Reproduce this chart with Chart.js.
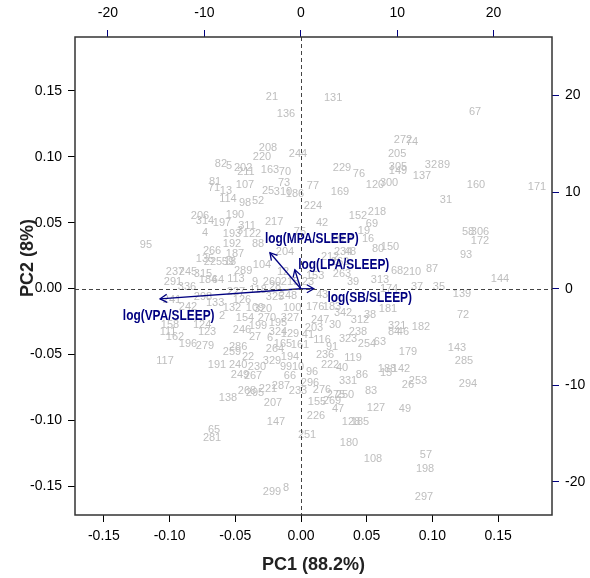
<!DOCTYPE html>
<html lang="en">
<head>
<meta charset="UTF-8">
<title>PCA biplot</title>
<script src="https://cdn.jsdelivr.net/npm/chart.js"></script>
<style>
  body { margin: 0; background: #fff; }
  #wrap { width: 590px; height: 578px; }
</style>
</head>
<body>
<div id="wrap"><canvas id="biplot" width="590" height="578"></canvas></div>
<script>
// observation scores, plotted on the bottom / left axes
const obsIds = [
  21, 131, 136, 67, 272, 74, 208, 220, 244, 205,
  82, 5, 202, 211, 163, 70, 229, 76, 305, 149,
  32, 89, 137, 120, 300, 160, 171, 81, 71, 107,
  73, 77, 169, 25, 31, 114, 13, 310, 186, 224,
  52, 98, 218, 152, 190, 206, 314, 197, 217, 42,
  69, 311, 193, 4, 95, 58, 306, 172, 150, 80,
  266, 204, 234, 48, 93, 135, 225, 187, 87, 68,
  210, 237, 245, 315, 184, 64, 144, 313, 12, 153,
  263, 291, 336, 39, 23, 289, 37, 35, 174, 139,
  241, 298, 133, 242, 126, 325, 248, 181, 72, 109,
  132, 320, 100, 176, 183, 342, 38, 158, 124, 123,
  111, 162, 196, 279, 321, 182, 84, 46, 199, 195,
  203, 27, 324, 41, 116, 323, 238, 254, 179, 143,
  286, 264, 91, 236, 119, 194, 285, 117, 191, 329,
  240, 230, 99, 10, 222, 40, 188, 142, 15, 267,
  66, 86, 331, 26, 253, 294, 296, 268, 295, 221,
  287, 233, 83, 138, 155, 269, 250, 275, 207, 47,
  127, 49, 226, 147, 128, 185, 65, 281, 251, 180,
  108, 57, 198, 297, 299, 8, 59, 113, 3, 122,
  192, 88, 18, 104, 260, 9, 227, 118, 28, 215,
  212, 20, 7, 16, 19, 75, 154, 270, 327, 2,
  246, 6, 129, 161, 259, 22, 165, 247, 30, 312,
  63, 262, 43, 249, 96, 276
];
const pc1 = [
  -0.0221, 0.0244, -0.0114, 0.1324, 0.0776, 0.0845, -0.0251, -0.0297, -0.0023, 0.0731,
  -0.0609, -0.0548, -0.0441, -0.0419, -0.0236, -0.0122, 0.0312, 0.0441, 0.0738, 0.0738,
  0.0989, 0.1088, 0.0921, 0.0563, 0.0670, 0.1332, 0.1796, -0.0654, -0.0662, -0.0426,
  -0.0129, 0.0091, 0.0297, -0.0251, 0.1103, -0.0556, -0.0571, -0.0137, -0.0046, 0.0091,
  -0.0327, -0.0426, 0.0578, 0.0434, -0.0502, -0.0769, -0.0731, -0.0601, -0.0205, 0.0160,
  0.0540, -0.0411, -0.0525, -0.0731, -0.1180, 0.1271, 0.1362, 0.1362, 0.0677, 0.0586,
  -0.0677, -0.0122, 0.0320, 0.0373, 0.1256, -0.0731, -0.0670, -0.0502, 0.0997, 0.0731,
  0.0845, -0.0959, -0.0860, -0.0746, -0.0708, -0.0632, 0.1514, 0.0601, -0.0137, 0.0107,
  0.0312, -0.0974, -0.0868, 0.0396, 0.0053, -0.0441, 0.0883, 0.1050, 0.0670, 0.1225,
  -0.0982, -0.0746, -0.0654, -0.0860, -0.0449, -0.0198, -0.0099, 0.0662, 0.1233, -0.0350,
  -0.0525, -0.0289, -0.0068, 0.0107, 0.0236, 0.0320, 0.0525, -0.0997, -0.0753, -0.0715,
  -0.1012, -0.0959, -0.0860, -0.0731, 0.0731, 0.0913, 0.0708, 0.0776, -0.0327, -0.0175,
  0.0099, -0.0350, -0.0175, 0.0053, 0.0160, 0.0358, 0.0434, 0.0502, 0.0814, 0.1187,
  -0.0479, -0.0198, 0.0236, 0.0183, 0.0396, -0.0084, 0.1240, -0.1035, -0.0639, -0.0221,
  -0.0479, -0.0335, -0.0114, -0.0023, 0.0221, 0.0312, 0.0654, 0.0761, 0.0647, -0.0365,
  -0.0084, 0.0464, 0.0358, 0.0814, 0.0890, 0.1271, 0.0068, -0.0411, -0.0350, -0.0251,
  -0.0152, -0.0023, 0.0533, -0.0556, 0.0122, 0.0236, 0.0335, 0.0266, -0.0213, 0.0282,
  0.0571, 0.0791, 0.0114, -0.0190, 0.0380, 0.0449, -0.0662, -0.0677, 0.0046, 0.0365,
  0.0548, 0.0951, 0.0944, 0.0936, -0.0221, -0.0114, -0.0556, -0.0495, -0.0464, -0.0373,
  -0.0525, -0.0327, -0.0540, -0.0297, -0.0221, -0.0350, -0.0495, -0.0327, -0.0198, -0.0084,
  0.0221, 0.0282, 0.0373, 0.0510, 0.0479, -0.0008, -0.0426, -0.0259, -0.0084, -0.0601,
  -0.0449, -0.0236, -0.0084, -0.0008, -0.0525, -0.0403, -0.0137, 0.0145, 0.0259, 0.0449,
  0.0601, 0.0297, 0.0160, -0.0464, 0.0084, 0.0160
];
const pc2 = [
  0.1454, 0.1446, 0.1324, 0.1339, 0.1126, 0.1111, 0.1065, 0.0997, 0.1020, 0.1020,
  0.0944, 0.0928, 0.0913, 0.0883, 0.0898, 0.0883, 0.0913, 0.0868, 0.0921, 0.0890,
  0.0936, 0.0936, 0.0852, 0.0784, 0.0799, 0.0784, 0.0769, 0.0807, 0.0761, 0.0784,
  0.0799, 0.0776, 0.0731, 0.0738, 0.0670, 0.0677, 0.0738, 0.0731, 0.0715, 0.0624,
  0.0662, 0.0647, 0.0578, 0.0548, 0.0556, 0.0548, 0.0510, 0.0495, 0.0502, 0.0495,
  0.0487, 0.0472, 0.0411, 0.0419, 0.0327, 0.0426, 0.0426, 0.0358, 0.0312, 0.0297,
  0.0282, 0.0274, 0.0274, 0.0274, 0.0251, 0.0221, 0.0205, 0.0259, 0.0145, 0.0137,
  0.0122, 0.0122, 0.0129, 0.0107, 0.0068, 0.0068, 0.0076, 0.0068, 0.0129, 0.0099,
  0.0107, 0.0046, 0.0015, 0.0046, 0.0046, 0.0137, 0.0015, 0.0015, 0.0000, -0.0038,
  -0.0084, -0.0068, -0.0107, -0.0137, -0.0084, -0.0068, -0.0053, -0.0152, -0.0198, -0.0145,
  -0.0145, -0.0152, -0.0145, -0.0137, -0.0137, -0.0183, -0.0198, -0.0274, -0.0274, -0.0327,
  -0.0327, -0.0365, -0.0419, -0.0434, -0.0282, -0.0289, -0.0327, -0.0327, -0.0282, -0.0259,
  -0.0297, -0.0365, -0.0327, -0.0350, -0.0388, -0.0381, -0.0327, -0.0419, -0.0479, -0.0449,
  -0.0441, -0.0457, -0.0441, -0.0502, -0.0525, -0.0517, -0.0548, -0.0548, -0.0578, -0.0548,
  -0.0578, -0.0594, -0.0594, -0.0594, -0.0578, -0.0601, -0.0609, -0.0609, -0.0639, -0.0662,
  -0.0662, -0.0654, -0.0700, -0.0731, -0.0700, -0.0723, -0.0715, -0.0776, -0.0791, -0.0761,
  -0.0738, -0.0776, -0.0776, -0.0829, -0.0860, -0.0852, -0.0807, -0.0807, -0.0868, -0.0913,
  -0.0906, -0.0913, -0.0966, -0.1012, -0.1012, -0.1012, -0.1073, -0.1134, -0.1111, -0.1172,
  -0.1294, -0.1263, -0.1370, -0.1583, -0.1545, -0.1514, 0.0198, 0.0076, 0.0434, 0.0411,
  0.0342, 0.0342, 0.0205, 0.0175, 0.0053, 0.0046, -0.0023, -0.0008, 0.0015, 0.0046,
  0.0236, 0.0373, 0.0373, 0.0373, 0.0434, 0.0426, -0.0221, -0.0221, -0.0221, -0.0205,
  -0.0312, -0.0373, -0.0342, -0.0426, -0.0479, -0.0517, -0.0419, -0.0236, -0.0274, -0.0236,
  -0.0403, 0.0205, -0.0046, -0.0654, -0.0632, -0.0769
];

// variable loadings (arrow tips), plotted on the top / right axes
const varNames = ['log(VPA/SLEEP)', 'log(MPA/SLEEP)', 'log(LPA/SLEEP)', 'log(SB/SLEEP)'];
const varX = [-14.6, -3.2, -0.62, 1.35];
const varY = [-1.04, 3.73, 1.97, 0];
const varLabelX = [-13.7, 1.14, 4.46, 7.15];
const varLabelY = [-2.8, 5.18, 2.49, -0.93];

const scoreTicks = [-0.15, -0.10, -0.05, 0, 0.05, 0.10, 0.15];
const loadTicks = [-20, -10, 0, 10, 20];
const scoreLim = [-0.172, 0.191];
const loadLim = [-23.42, 26.06];

const FONT = '"Liberation Sans", Arial, sans-serif';
const NAVY = '#000080';

const scoreData = obsIds.map((id, i) => ({ x: pc1[i], y: pc2[i] }));

const arrowSets = varNames.map((name, i) => ({
  label: name,
  data: [{ x: 0, y: 0 }, { x: varX[i], y: varY[i] }],
  xAxisID: 'x2',
  yAxisID: 'y2',
  showLine: true,
  borderColor: NAVY,
  borderWidth: 1.3,
  pointRadius: 0
}));

function axis(position, lim, ticks, fmt, tickColor, size, pad) {
  const horizontal = position === 'top' || position === 'bottom';
  return {
    type: 'linear',
    position: position,
    min: lim[0],
    max: lim[1],
    afterBuildTicks: s => { s.ticks = ticks.map(v => ({ value: v })); },
    afterFit: s => { if (horizontal) s.height = size; else s.width = size; },
    ticks: {
      callback: fmt,
      color: '#000',
      font: { family: FONT, size: 14 },
      padding: pad,
      maxRotation: 0,
      autoSkip: false
    },
    grid: { drawOnChartArea: false, drawTicks: true, tickLength: 7, color: tickColor },
    border: { display: false }
  };
}

const biplotLayer = {
  id: 'biplotLayer',
  beforeDatasetsDraw(chart) {
    const ctx = chart.ctx;
    const meta = chart.getDatasetMeta(0);
    ctx.save();
    ctx.font = '11px ' + FONT;
    ctx.fillStyle = '#bebebe';
    ctx.textAlign = 'center';
    ctx.textBaseline = 'middle';
    meta.data.forEach((pt, i) => ctx.fillText(String(obsIds[i]), pt.x, pt.y));
    ctx.restore();
  },
  afterDatasetsDraw(chart) {
    const ctx = chart.ctx;
    const ca = chart.chartArea;
    const sx = chart.scales.x2, sy = chart.scales.y2;
    ctx.save();

    // arrow heads
    ctx.strokeStyle = NAVY;
    ctx.lineWidth = 1.3;
    varNames.forEach((n, i) => {
      const m = chart.getDatasetMeta(i + 1).data;
      const p0 = m[0], p1 = m[1];
      const a = Math.atan2(p1.y - p0.y, p1.x - p0.x);
      const len = 8;
      ctx.beginPath();
      ctx.moveTo(p1.x - len * Math.cos(a - Math.PI / 6), p1.y - len * Math.sin(a - Math.PI / 6));
      ctx.lineTo(p1.x, p1.y);
      ctx.lineTo(p1.x - len * Math.cos(a + Math.PI / 6), p1.y - len * Math.sin(a + Math.PI / 6));
      ctx.stroke();
    });

    // variable names, condensed bold
    ctx.fillStyle = NAVY;
    ctx.font = 'bold 14px ' + FONT;
    ctx.textAlign = 'center';
    ctx.textBaseline = 'middle';
    varNames.forEach((n, i) => {
      ctx.save();
      ctx.translate(sx.getPixelForValue(varLabelX[i]), sy.getPixelForValue(varLabelY[i]));
      ctx.scale(0.85, 1);
      ctx.fillText(n, 0, 0);
      ctx.restore();
    });

    // dashed zero lines
    const zx = Math.round(sx.getPixelForValue(0)) + 0.5;
    const zy = Math.round(sy.getPixelForValue(0)) + 0.5;
    ctx.strokeStyle = '#444';
    ctx.lineWidth = 1;
    ctx.setLineDash([4, 3]);
    ctx.beginPath();
    ctx.moveTo(ca.left, zy); ctx.lineTo(ca.right, zy);
    ctx.moveTo(zx, ca.top); ctx.lineTo(zx, ca.bottom);
    ctx.stroke();
    ctx.setLineDash([]);

    // frame
    ctx.strokeStyle = '#333';
    ctx.lineWidth = 1.5;
    ctx.strokeRect(ca.left, ca.top, ca.right - ca.left, ca.bottom - ca.top);

    // axis titles
    ctx.fillStyle = '#222';
    ctx.font = 'bold 18px ' + FONT;
    ctx.fillText('PC1 (88.2%)', (ca.left + ca.right) / 2, 565);
    ctx.translate(28, 258);
    ctx.rotate(-Math.PI / 2);
    ctx.fillText('PC2 (8%)', 0, 0);
    ctx.restore();
  }
};

new Chart(document.getElementById('biplot'), {
  type: 'scatter',
  data: {
    datasets: [{
      label: 'scores',
      data: scoreData,
      xAxisID: 'x',
      yAxisID: 'y',
      pointRadius: 0
    }].concat(arrowSets)
  },
  options: {
    responsive: false,
    animation: false,
    devicePixelRatio: 1,
    events: [],
    layout: { padding: 0, autoPadding: false },
    plugins: { legend: { display: false }, tooltip: { enabled: false } },
    scales: {
      x: axis('bottom', scoreLim, scoreTicks, v => v.toFixed(2), '#000', 63, 6),
      y: axis('left', scoreLim, scoreTicks, v => v.toFixed(2), '#000', 75, 6),
      x2: axis('top', loadLim, loadTicks, v => String(v), NAVY, 37, 8),
      y2: axis('right', loadLim, loadTicks, v => String(v), NAVY, 38, 6)
    }
  },
  plugins: [biplotLayer]
});
</script>
</body>
</html>
